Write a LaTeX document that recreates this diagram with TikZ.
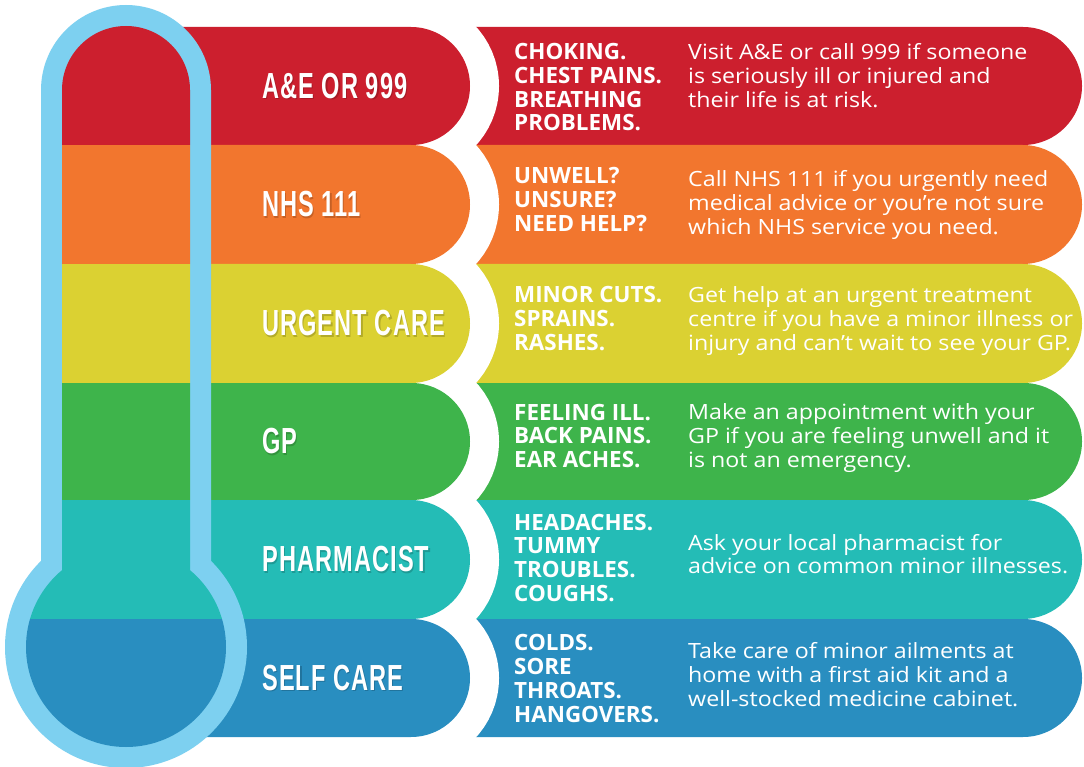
\documentclass[tikz,border=0pt]{standalone}
\usepackage{fontspec}
\setmainfont{Open Sans}
\newfontfamily\labelfont{Liberation Sans}[FakeStretch=0.65,LetterSpace=3.0]
\newfontfamily\bodyfont{Open Sans}[FakeStretch=1.105]
\definecolor{cred}{RGB}{204,31,46}
\definecolor{corange}{RGB}{242,118,46}
\definecolor{cyellow}{RGB}{219,209,50}
\definecolor{cgreen}{RGB}{62,180,75}
\definecolor{cteal}{RGB}{36,188,182}
\definecolor{cblue}{RGB}{41,142,192}
\definecolor{ctube}{RGB}{125,208,240}
\newcommand\stk[1]{\vtop{\baselineskip=23.9pt\lineskiplimit=-20pt\lineskip=0pt #1}}
\tikzset{
  labeltxt/.style={anchor=west, inner sep=0pt, text=white, font=\labelfont\bfseries\fontsize{36.3}{40}\selectfont},
  labelshadow/.style={labeltxt, text=black, opacity=0.18},
  midtxt/.style={anchor=base west, inner sep=0pt, text=white, font=\bfseries\fontsize{22.4}{24}\selectfont},
  bodytxt/.style={anchor=base west, inner sep=0pt, text=white, font=\bodyfont\fontsize{21}{24}\selectfont},
}
\begin{document}
\begin{tikzpicture}[x=1pt,y=-1pt]
\useasboundingbox (0,0) rectangle (1084,767);
\fill[white] (0,0) rectangle (1084,767);
% right pills
\foreach \t/\b/\c in {27/145/cred,145/264/corange,264/383/cyellow,383/500/cgreen,500/619/cteal,619/737/cblue}{
  \pgfmathsetmacro\r{(\b-\t)/2}
  \fill[\c] (440,\t) -- (1082-\r,\t) arc (-90:90:\r) -- (440,\b) -- cycle;
}
% white gaps around the left pills
\foreach \t/\b in {27/145,145/264,264/383,383/500,500/619,619/737}{
  \pgfmathsetmacro\r{(\b-\t)/2}
  \draw[white, line width=58pt] (126,\t) -- (470-\r,\t) arc (-90:90:\r) -- (126,\b) -- cycle;
}
% left pills
\foreach \t/\b/\c in {27/145/cred,145/264/corange,264/383/cyellow,383/500/cgreen,500/619/cteal,619/737/cblue}{
  \pgfmathsetmacro\r{(\b-\t)/2}
  \fill[\c] (126,\t) -- (470-\r,\t) arc (-90:90:\r) -- (126,\b) -- cycle;
}
% thermometer wall
\fill[ctube] (41,600) -- (41,90) arc (180:360:85) -- (211,600) -- cycle;
\fill[ctube] (126,647) circle (121);
% thermometer interior
\begin{scope}
  \clip (62,600) -- (62,90) arc (180:360:64) -- (190,600) -- cycle;
  \foreach \t/\b/\c in {0/145/cred,145/264/corange,264/383/cyellow,383/500/cgreen,500/619/cteal,619/767/cblue}{
    \fill[\c] (0,\t) rectangle (300,\b);
  }
\end{scope}
\begin{scope}
  \clip (126,647) circle (100);
  \foreach \t/\b/\c in {0/145/cred,145/264/corange,264/383/cyellow,383/500/cgreen,500/619/cteal,619/767/cblue}{
    \fill[\c] (0,\t) rectangle (300,\b);
  }
\end{scope}
% level labels
\foreach \i/\m/\txt in {1/86/{A\&E OR 999},2/204.5/{NHS 111},3/323.5/{URGENT CARE},4/441.5/{GP},5/559.5/{PHARMACIST},6/678/{SELF CARE}}{
  \node[labelshadow] (ls\i) at (263.2,\m+1.2) {\txt};
  \node[labeltxt] (l\i) at (262,\m) {\txt};
}
% symptoms
\node[midtxt] (m1) at (514,59.3) {\stk{\hbox{CHOKING.}\hbox{CHEST PAINS.}\hbox{BREATHING}\hbox{PROBLEMS.}}};
\node[midtxt] (m2) at (514,184) {\stk{\hbox{UNWELL?}\hbox{UNSURE?}\hbox{NEED HELP?}}};
\node[midtxt] (m3) at (514,302.7) {\stk{\hbox{MINOR CUTS.}\hbox{SPRAINS.}\hbox{RASHES.}}};
\node[midtxt] (m4) at (514,420) {\stk{\hbox{FEELING ILL.}\hbox{BACK PAINS.}\hbox{EAR ACHES.}}};
\node[midtxt] (m5) at (514,530) {\stk{\hbox{HEADACHES.}\hbox{TUMMY}\hbox{TROUBLES.}\hbox{COUGHS.}}};
\node[midtxt] (m6) at (514,650.7) {\stk{\hbox{COLDS.}\hbox{SORE}\hbox{THROATS.}\hbox{HANGOVERS.}}};
% advice
\node[bodytxt] (d1) at (688,60) {\stk{\hbox{Visit A\&E or call 999 if someone}\hbox{is seriously ill or injured and}\hbox{their life is at risk.}}};
\node[bodytxt] (d2) at (688,186.7) {\stk{\hbox{Call NHS 111 if you urgently need}\hbox{medical advice or you’re not sure}\hbox{which NHS service you need.}}};
\node[bodytxt] (d3) at (688,302.7) {\stk{\hbox{Get help at an urgent treatment}\hbox{centre if you have a minor illness or}\hbox{injury and can’t wait to see your GP.}}};
\node[bodytxt] (d4) at (688,419.3) {\stk{\hbox{Make an appointment with your}\hbox{GP if you are feeling unwell and it}\hbox{is not an emergency.}}};
\node[bodytxt] (d5) at (688,550) {\stk{\hbox{Ask your local pharmacist for}\hbox{advice on common minor illnesses.}}};
\node[bodytxt] (d6) at (688,658.3) {\stk{\hbox{Take care of minor ailments at}\hbox{home with a first aid kit and a}\hbox{well-stocked medicine cabinet.}}};
\end{tikzpicture}
\end{document}
